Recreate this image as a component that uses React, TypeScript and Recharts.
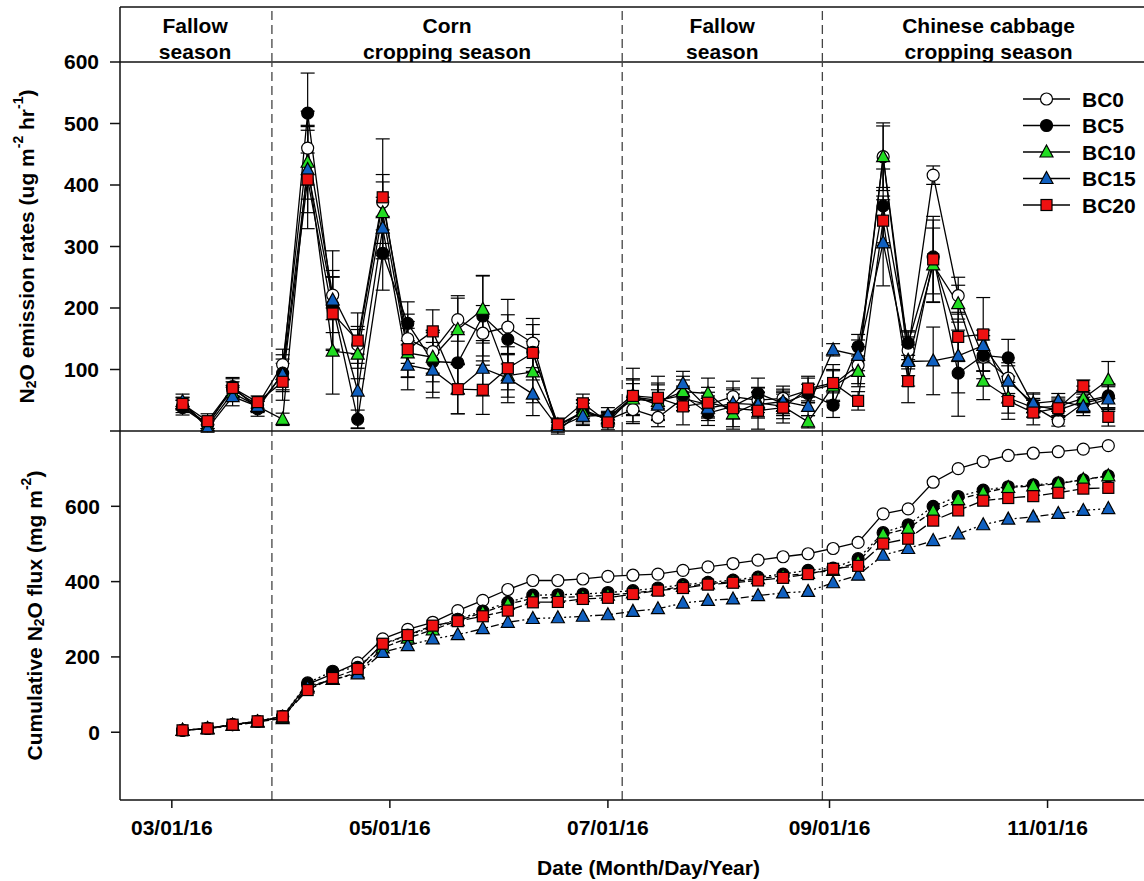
import React from "react";
import {
  ComposedChart,
  Line,
  XAxis,
  YAxis,
  ErrorBar,
  ReferenceLine,
  ReferenceArea,
  Label,
  Legend,
} from "recharts";

const FONT = "'Liberation Sans', Arial, sans-serif";

// weekly sampling dates
const sampleDates = [
  "2016-03-04", "2016-03-11", "2016-03-18", "2016-03-25", "2016-04-01", "2016-04-08",
  "2016-04-15", "2016-04-22", "2016-04-29", "2016-05-06", "2016-05-13", "2016-05-20",
  "2016-05-27", "2016-06-03", "2016-06-10", "2016-06-17", "2016-06-24", "2016-07-01",
  "2016-07-08", "2016-07-15", "2016-07-22", "2016-07-29", "2016-08-05", "2016-08-12",
  "2016-08-19", "2016-08-26", "2016-09-02", "2016-09-09", "2016-09-16", "2016-09-23",
  "2016-09-30", "2016-10-07", "2016-10-14", "2016-10-21", "2016-10-28", "2016-11-04",
  "2016-11-11", "2016-11-18",
];

// N2O emission rates (ug m-2 hr-1)
const bc0Rate = [40, 12, 68, 42, 108, 460, 221, 140, 372, 150, 129, 181, 159, 169, 143, 0, 35, 18, 35, 22, 53, 43, 56, 50, 53, 66, 75, 107, 446, 131, 416, 220, 120, 86, 40, 16, 45, 55];
const bc5Rate = [38, 10, 72, 36, 94, 517, 205, 19, 289, 175, 113, 111, 187, 149, 128, 8, 30, 22, 55, 50, 58, 29, 40, 61, 45, 61, 42, 137, 366, 143, 283, 94, 123, 119, 42, 34, 48, 57];
const bc10Rate = [45, 8, 62, 40, 19, 437, 130, 125, 355, 127, 120, 165, 198, 90, 96, 10, 31, 20, 52, 48, 64, 61, 28, 46, 40, 15, 73, 97, 446, 115, 270, 207, 81, 54, 38, 40, 53, 83];
const bc15Rate = [48, 4, 56, 40, 92, 425, 213, 65, 330, 107, 99, 68, 102, 86, 60, 6, 24, 26, 58, 42, 77, 37, 45, 43, 48, 40, 132, 123, 306, 113, 114, 122, 139, 81, 45, 49, 40, 52];
const bc20Rate = [44, 16, 70, 47, 80, 409, 191, 147, 380, 133, 162, 68, 67, 102, 127, 11, 45, 14, 57, 54, 40, 46, 37, 33, 38, 69, 78, 49, 342, 81, 279, 153, 157, 49, 30, 37, 73, 23];

// standard errors
const bc0Err = [10, 8, 12, 10, 25, 60, 40, 30, 45, 40, 35, 35, 45, 45, 40, 5, 15, 10, 20, 15, 20, 20, 25, 20, 20, 20, 25, 30, 55, 30, 15, 30, 35, 25, 10, 8, 15, 20];
const bc5Err = [12, 10, 15, 12, 30, 65, 45, 15, 60, 35, 50, 50, 65, 40, 45, 8, 15, 10, 30, 25, 25, 20, 20, 25, 20, 15, 20, 20, 60, 20, 60, 70, 25, 30, 20, 15, 18, 20];
const bc10Err = [10, 8, 12, 8, 10, 60, 70, 40, 50, 40, 40, 55, 55, 35, 50, 8, 20, 10, 25, 30, 25, 25, 25, 25, 20, 10, 25, 25, 50, 25, 60, 30, 30, 25, 15, 15, 20, 30];
const bc15Err = [12, 6, 15, 10, 25, 70, 80, 60, 50, 40, 45, 40, 45, 40, 35, 8, 15, 12, 25, 25, 20, 20, 25, 20, 20, 15, 10, 25, 70, 40, 55, 60, 25, 25, 15, 12, 15, 20];
const bc20Err = [10, 12, 15, 10, 30, 80, 60, 45, 95, 45, 35, 40, 40, 35, 30, 10, 15, 12, 45, 35, 30, 25, 30, 30, 25, 20, 30, 15, 40, 35, 70, 40, 60, 30, 20, 15, 10, 15];

// cumulative N2O flux (mg m-2)
const bc0Cum = [5, 10, 20, 29, 42, 127, 155, 184, 248, 273, 292, 323, 350, 379, 403, 403, 407, 414, 417, 420, 430, 439, 448, 457, 466, 474, 488, 504, 580, 593, 664, 700, 719, 735, 741, 745, 752, 761];
const bc5Cum = [5, 10, 20, 29, 42, 131, 162, 172, 232, 258, 278, 300, 322, 345, 364, 365, 367, 371, 376, 383, 392, 398, 404, 412, 420, 430, 436, 461, 530, 551, 600, 626, 643, 652, 657, 662, 670, 681];
const bc10Cum = [5, 10, 19, 28, 36, 122, 140, 158, 224, 250, 272, 296, 318, 340, 356, 358, 360, 364, 370, 377, 387, 394, 400, 408, 415, 422, 430, 452, 525, 541, 587, 618, 636, 650, 654, 660, 671, 681];
const bc15Cum = [5, 9, 18, 27, 40, 118, 140, 155, 212, 230, 248, 259, 275, 292, 302, 304, 308, 312, 321, 328, 343, 350, 354, 363, 370, 374, 397, 417, 470, 488, 509, 527, 551, 566, 572, 581, 589, 594];
const bc20Cum = [5, 10, 20, 29, 42, 112, 144, 168, 235, 258, 283, 295, 308, 323, 345, 346, 354, 357, 367, 376, 383, 392, 397, 403, 410, 420, 434, 442, 501, 514, 562, 589, 615, 622, 627, 636, 647, 649];

const tickDates = ["2016-03-01", "2016-05-01", "2016-07-01", "2016-09-01", "2016-11-01"];
const tickLabels = ["03/01/16", "05/01/16", "07/01/16", "09/01/16", "11/01/16"];

const seasonBounds = ["2016-02-15", "2016-03-29", "2016-07-05", "2016-08-30", "2016-12-01"];
const seasonLabels = [
  ["Fallow", "season"],
  ["Corn", "cropping season"],
  ["Fallow", "season"],
  ["Chinese cabbage", "cropping season"],
];

const series = [
  { key: "bc0", name: "BC0", shape: "circle", fill: "#ffffff", dash: undefined },
  { key: "bc5", name: "BC5", shape: "circle", fill: "#000000", dash: "2 3" },
  { key: "bc10", name: "BC10", shape: "triangle", fill: "#22dd22", dash: "6 3" },
  { key: "bc15", name: "BC15", shape: "triangle", fill: "#1060c0", dash: "8 3 2 3 2 3" },
  { key: "bc20", name: "BC20", shape: "square", fill: "#ee1111", dash: "12 3" },
];

const dayOf = (s: string) => {
  const [y, m, d] = s.split("-").map(Number);
  return (Date.UTC(y, m - 1, d) - Date.UTC(2016, 2, 1)) / 86400000;
};

const X_DOMAIN: [number, number] = [-14.5, 274.5];
const xTicks = tickDates.map(dayOf);
const bounds = seasonBounds.map(dayOf);

const rates = [bc0Rate, bc5Rate, bc10Rate, bc15Rate, bc20Rate];
const errs = [bc0Err, bc5Err, bc10Err, bc15Err, bc20Err];
const cums = [bc0Cum, bc5Cum, bc10Cum, bc15Cum, bc20Cum];

const rateData = sampleDates.map((d, i) => {
  const row: Record<string, number> = { x: dayOf(d) };
  series.forEach((s, k) => {
    row[s.key] = rates[k][i];
    row[s.key + "Err"] = errs[k][i];
  });
  return row;
});

const cumData = sampleDates.map((d, i) => {
  const row: Record<string, number> = { x: dayOf(d) };
  series.forEach((s, k) => {
    row[s.key] = cums[k][i];
  });
  return row;
});

// frame of the season band (x range and 0..1 height)
const bandData = [
  { x: X_DOMAIN[0], y: 0 },
  { x: X_DOMAIN[1], y: 1 },
];

const Marker = ({ cx, cy, shape, fill }: any) => {
  if (cx == null || cy == null) return null;
  const common = { fill, stroke: "#000", strokeWidth: 1.2 };
  if (shape === "circle") return <circle cx={cx} cy={cy} r={6} {...common} />;
  if (shape === "square") return <rect x={cx - 5.5} y={cy - 5.5} width={11} height={11} {...common} />;
  return <polygon points={`${cx},${cy - 7} ${cx + 6.5},${cy + 5} ${cx - 6.5},${cy + 5}`} {...common} />;
};

const dotFor = (s: any) => (p: any) =>
  <Marker key={`${s.key}-${p.index}`} cx={p.cx} cy={p.cy} shape={s.shape} fill={s.fill} />;

const FS = 21;
const tickStyle = { fill: "#000", fontSize: FS, fontWeight: "bold", fontFamily: FONT };
const axisStroke = { stroke: "#111", strokeWidth: 1.5 };

const LegendBox = () => (
  <svg width={140} height={140} style={{ display: "block" }}>
    {series.map((s, i) => {
      const y = 14 + i * 26.5;
      return (
        <g key={s.key}>
          <line x1={8} x2={55} y1={y} y2={y} stroke="#000" strokeWidth={1.3} />
          <Marker cx={31.5} cy={y} shape={s.shape} fill={s.fill} />
          <text x={67} y={y} dy="0.36em" fontSize={FS} fontWeight="bold" fontFamily={FONT} fill="#000">
            {s.name}
          </text>
        </g>
      );
    })}
  </svg>
);

const upperTitle = (props: any) => {
  const vb = props.viewBox;
  const cx = 26;
  const cy = vb.y + vb.height / 2;
  return (
    <text x={cx} y={cy} transform={`rotate(-90, ${cx}, ${cy})`} textAnchor="middle" dominantBaseline="central"
      fontSize={FS} fontWeight="bold" fontFamily={FONT} fill="#000">
      <tspan>N</tspan>
      <tspan dy={5} fontSize={14}>2</tspan>
      <tspan dy={-5}>O emission rates (ug m</tspan>
      <tspan dy={-8} fontSize={14}>-2</tspan>
      <tspan dy={8}> hr</tspan>
      <tspan dy={-8} fontSize={14}>-1</tspan>
      <tspan dy={8}>)</tspan>
    </text>
  );
};

const lowerTitle = (props: any) => {
  const vb = props.viewBox;
  const cx = 34;
  const cy = vb.y + vb.height / 2;
  return (
    <text x={cx} y={cy} transform={`rotate(-90, ${cx}, ${cy})`} textAnchor="middle" dominantBaseline="central"
      fontSize={FS} fontWeight="bold" fontFamily={FONT} fill="#000">
      <tspan>Cumulative N</tspan>
      <tspan dy={5} fontSize={14}>2</tspan>
      <tspan dy={-5}>O flux (mg m</tspan>
      <tspan dy={-8} fontSize={14}>-2</tspan>
      <tspan dy={8}>)</tspan>
    </text>
  );
};

const xTitle = (props: any) => {
  const vb = props.viewBox;
  return (
    <text x={vb.x + vb.width / 2 + 12} y={vb.y + 75} textAnchor="middle" fontSize={FS} fontWeight="bold"
      fontFamily={FONT} fill="#000">
      Date (Month/Day/Year)
    </text>
  );
};

const seasonLabel = (lines: string[]) => (props: any) => {
  const vb = props.viewBox;
  const cx = vb.x + vb.width / 2;
  return (
    <text textAnchor="middle" fontSize={FS} fontWeight="bold" fontFamily={FONT} fill="#000">
      <tspan x={cx} y={vb.y + 26}>{lines[0]}</tspan>
      <tspan x={cx} y={vb.y + 52}>{lines[1]}</tspan>
    </text>
  );
};

const W = 1153;
const boundaryLines = bounds.slice(1, 4);
const dashed = { stroke: "#444", strokeWidth: 1.3, strokeDasharray: "9 5" };

export default function App() {
  const abs: React.CSSProperties = { position: "absolute", left: 0, top: 0 };
  return (
    <div style={{ position: "absolute", left: 0, top: 0, width: 1144, height: 881, overflow: "hidden", background: "#fff", fontFamily: FONT }}>
      {/* lower panel: cumulative flux */}
      <div style={abs}>
        <ComposedChart width={W} height={881} data={cumData} margin={{ top: 431, right: 0, bottom: 11, left: 0 }}>
          <XAxis dataKey="x" type="number" domain={X_DOMAIN} ticks={xTicks} allowDataOverflow
            tickFormatter={(v: number) => tickLabels[xTicks.indexOf(v)] ?? ""}
            tick={tickStyle} tickSize={8} tickMargin={12} height={70} axisLine={axisStroke} tickLine={axisStroke}>
            <Label content={xTitle} />
          </XAxis>
          <YAxis type="number" domain={[-180, 800]} ticks={[0, 200, 400, 600]} allowDataOverflow width={120}
            tick={tickStyle} tickSize={9} tickMargin={11} axisLine={axisStroke} tickLine={axisStroke}>
            <Label content={lowerTitle} />
          </YAxis>
          {boundaryLines.map((b) => (
            <ReferenceLine key={b} x={b} {...dashed} />
          ))}
          {series.map((s) => (
            <Line key={s.key} dataKey={s.key} isAnimationActive={false} stroke="#000" strokeWidth={1.3}
              strokeDasharray={s.dash} dot={dotFor(s)} activeDot={false} />
          ))}
        </ComposedChart>
      </div>

      {/* upper panel: emission rates */}
      <div style={abs}>
        <ComposedChart width={W} height={450} data={rateData} margin={{ top: 62, right: 0, bottom: 9, left: 0 }}>
          <XAxis dataKey="x" type="number" domain={X_DOMAIN} ticks={xTicks} allowDataOverflow tick={false}
            tickSize={8} height={10} axisLine={axisStroke} tickLine={axisStroke} />
          <YAxis type="number" domain={[0, 600]} ticks={[0, 100, 200, 300, 400, 500, 600]} allowDataOverflow width={120}
            tickFormatter={(v: number) => (v === 0 ? "" : String(v))}
            tick={tickStyle} tickSize={10} tickMargin={11} axisLine={axisStroke} tickLine={axisStroke}>
            <Label content={upperTitle} />
          </YAxis>
          <ReferenceLine y={600} stroke="#111" strokeWidth={1.5} />
          {boundaryLines.map((b) => (
            <ReferenceLine key={b} x={b} {...dashed} />
          ))}
          {series.map((s) => (
            <Line key={s.key} dataKey={s.key} isAnimationActive={false} stroke="#000" strokeWidth={1.3}
              dot={dotFor(s)} activeDot={false}>
              <ErrorBar dataKey={s.key + "Err"} direction="y" width={7} stroke="#000" strokeWidth={1.2} />
            </Line>
          ))}
          <Legend layout="vertical" align="center" verticalAlign="middle" content={() => <LegendBox />}
            wrapperStyle={{ position: "absolute", left: 1015, top: 85, width: 140, height: 140 }} />
        </ComposedChart>
      </div>

      {/* season band */}
      <div style={abs}>
        <ComposedChart width={W} height={62} data={bandData} margin={{ top: 7, right: 0, bottom: 0, left: 0 }}>
          <XAxis dataKey="x" type="number" domain={X_DOMAIN} hide allowDataOverflow />
          <YAxis type="number" domain={[0, 1]} width={120} tick={false} tickLine={false} axisLine={axisStroke} />
          <Line dataKey="y" isAnimationActive={false} stroke="none" dot={false} activeDot={false} />
          <ReferenceLine y={1} stroke="#111" strokeWidth={1.5} ifOverflow="visible" />
          {boundaryLines.map((b) => (
            <ReferenceLine key={b} x={b} {...dashed} ifOverflow="visible" />
          ))}
          {seasonLabels.map((lines, i) => (
            <ReferenceArea key={i} x1={bounds[i]} x2={bounds[i + 1]} y1={0} y2={1} fill="none" fillOpacity={0}
              stroke="none" ifOverflow="visible">
              <Label content={seasonLabel(lines)} />
            </ReferenceArea>
          ))}
        </ComposedChart>
      </div>
    </div>
  );
}
